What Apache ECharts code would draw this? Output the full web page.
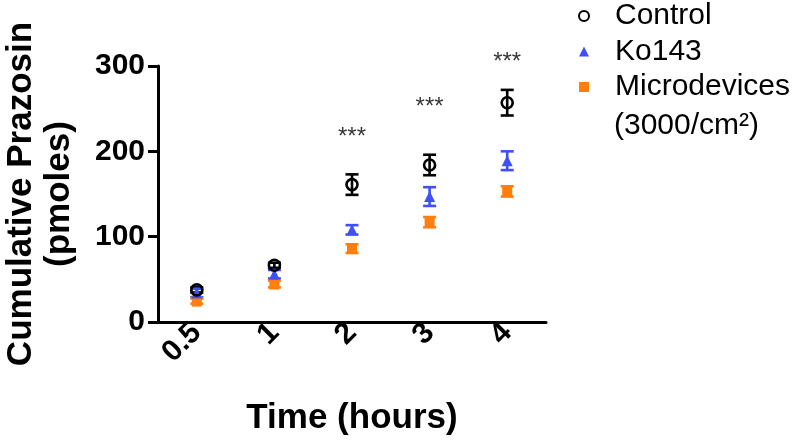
<!DOCTYPE html>
<html>
<head>
<meta charset="utf-8">
<script src="https://cdn.jsdelivr.net/npm/echarts@6/dist/echarts.min.js"></script>
<style>html,body{margin:0;padding:0;background:#fff;}#c{width:800px;height:441px;}</style>
</head>
<body>
<div id="c"></div>
<script>
const categories = ['0.5', '1', '2', '3', '4'];
const controlMean = [37.6, 66.5, 161, 184, 257];
const controlErr = [3, 3, 12, 12, 15];
const ko143Mean = [34, 56, 108, 147, 189];
const ko143Err = [5, 5, 5.5, 11, 11];
const microMean = [24.5, 44.5, 86, 117, 153];
const microErr = [3, 4, 5, 6, 6];
const starText = ['', '', '***', '***', '***'];
const starY = [null, null, 223, 258, 311];
const yTicks = [0, 100, 200, 300];

const FONT = 'Liberation Sans';
const BLACK = '#000000';
const BLUE = '#3f51f6';
const ORANGE = '#ff7f0e';

function errData(mean, err) {
  return mean.map((m, i) => [i, m - err[i], m + err[i]]);
}
function errSeries(mean, err, color) {
  return {
    type: 'custom',
    silent: true,
    z: 2,
    data: errData(mean, err),
    encode: { x: 0, y: [1, 2] },
    renderItem: function (params, api) {
      const lo = api.coord([api.value(0), api.value(1)]);
      const hi = api.coord([api.value(0), api.value(2)]);
      const hw = 6.5;
      const st = { stroke: color, lineWidth: 2.6, fill: null };
      return {
        type: 'group',
        children: [
          { type: 'line', shape: { x1: lo[0], y1: lo[1], x2: hi[0], y2: hi[1] }, style: st },
          { type: 'line', shape: { x1: lo[0] - hw, y1: lo[1], x2: lo[0] + hw, y2: lo[1] }, style: st },
          { type: 'line', shape: { x1: hi[0] - hw, y1: hi[1], x2: hi[0] + hw, y2: hi[1] }, style: st }
        ]
      };
    }
  };
}

const chart = echarts.init(document.getElementById('c'), null, { renderer: 'canvas' });
chart.setOption({
  animation: false,
  backgroundColor: '#ffffff',
  textStyle: { fontFamily: FONT },
  grid: { left: 158, right: 254, top: 66, bottom: 117, containLabel: false },
  legend: {
    data: [
      { name: 'Control', icon: 'circle' },
      { name: 'Ko143', icon: 'triangle' },
      { name: 'Microdevices', icon: 'rect' }
    ],
    orient: 'vertical',
    left: 578,
    top: 1,
    padding: 0,
    itemWidth: 10,
    itemHeight: 10,
    itemGap: 5.5,
    selectedMode: false,
    textStyle: { fontFamily: FONT, fontSize: 30, color: '#000', padding: [0, 0, 0, 21] }
  },
  graphic: [{
    type: 'text',
    left: 614,
    top: 111,
    style: { text: '(3000/cm²)', font: '30px "Liberation Sans"', fill: '#000' }
  }],
  xAxis: {
    type: 'category',
    data: categories,
    boundaryGap: true,
    name: 'Time (hours)',
    nameLocation: 'middle',
    nameGap: 79,
    nameTextStyle: { fontFamily: FONT, fontSize: 35, fontWeight: 'bold', color: '#000' },
    axisLine: { lineStyle: { color: '#000', width: 3 } },
    axisTick: { alignWithLabel: true, length: 9, lineStyle: { color: '#000', width: 3 } },
    axisLabel: { rotate: 45, margin: 6, fontFamily: FONT, fontSize: 30, fontWeight: 'bold', color: '#000' },
    splitLine: { show: false }
  },
  yAxis: {
    type: 'value',
    min: yTicks[0],
    max: yTicks[yTicks.length - 1],
    interval: 100,
    name: 'Cumulative Prazosin\n(pmoles)',
    nameLocation: 'middle',
    nameRotate: 90,
    nameGap: 80,
    nameTextStyle: { fontFamily: FONT, fontSize: 35, fontWeight: 'bold', color: '#000', lineHeight: 38 },
    axisLine: { show: true, lineStyle: { color: '#000', width: 3 } },
    axisTick: { show: true, length: 10, lineStyle: { color: '#000', width: 3 } },
    axisLabel: { margin: 13, fontFamily: FONT, fontSize: 30, fontWeight: 'bold', color: '#000' },
    splitLine: { show: false }
  },
  series: [
    errSeries(controlMean, controlErr, BLACK),
    errSeries(ko143Mean, ko143Err, BLUE),
    errSeries(microMean, microErr, ORANGE),
    {
      name: 'Control', type: 'scatter', z: 5,
      symbol: 'circle', symbolSize: 11,
      itemStyle: { color: 'rgba(0,0,0,0)', borderColor: BLACK, borderWidth: 2.6, opacity: 1 },
      data: controlMean
    },
    {
      name: 'Ko143', type: 'scatter', z: 4,
      symbol: 'triangle', symbolSize: 11,
      itemStyle: { color: BLUE, opacity: 1 },
      data: ko143Mean
    },
    {
      name: 'Microdevices', type: 'scatter', z: 3,
      symbol: 'rect', symbolSize: [10, 11],
      itemStyle: { color: ORANGE, opacity: 1 },
      data: microMean
    },
    {
      name: 'stars', type: 'scatter', z: 6, silent: true, clip: false,
      symbolSize: 0,
      data: starY.map((v, i) => ({ value: v, label: { formatter: starText[i] } })),
      label: { show: true, position: 'inside', offset: [0, 6], fontFamily: FONT, fontSize: 24, color: '#000' }
    }
  ]
});
</script>
</body>
</html>
